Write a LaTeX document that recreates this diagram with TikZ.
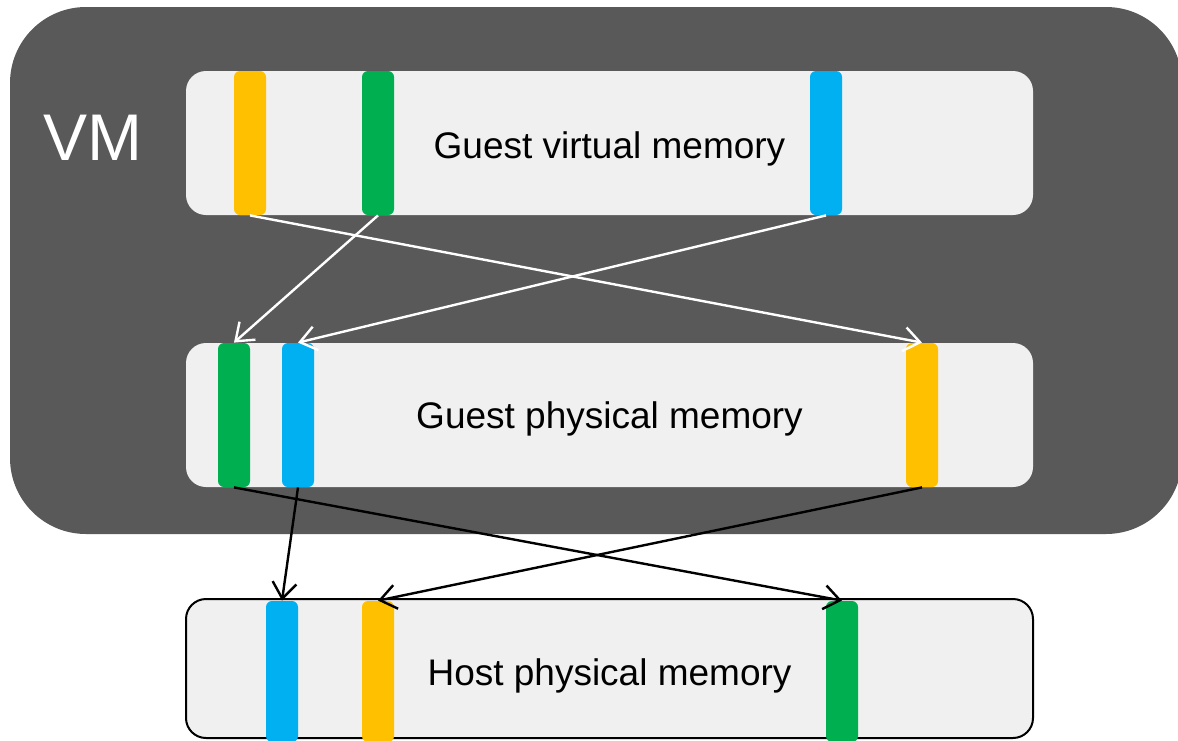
\documentclass[tikz,border=0pt]{standalone}
\usepackage{fontspec}
\setmainfont{Liberation Sans}
\usetikzlibrary{positioning,arrows.meta}
\definecolor{vmgray}{HTML}{595959}
\definecolor{boxgray}{HTML}{F0F0F0}
\definecolor{pageyellow}{HTML}{FFC000}
\definecolor{pagegreen}{HTML}{00B050}
\definecolor{pageblue}{HTML}{00B0F0}
\begin{document}
\begin{tikzpicture}[x=0.5pt, y=-0.5pt, >={Straight Barb[length=8pt,width=12pt]}]
		\useasboundingbox (0,0) rectangle (1178,740);
		% virtual machine
		\node[fill=vmgray, rounded corners=38pt, inner sep=0, minimum width=586pt, minimum height=263.5pt] (vm) at (596,270.5) {};
		\node[text=white, font=\fontsize{33}{40}\selectfont] (vmlabel) at (93,138) {VM};
		\begin{scope}[every node/.style={rectangle, inner sep=0, fill=boxgray, rounded corners=10pt, minimum width=423.5pt, minimum height=72pt}]
			\node (gvm) at (609.5,143) {};
			\node (gpm) at (609.5,415) {};
			\node[draw=black, line width=1pt, minimum height=69.5pt] (hpm) at (609.5,668.5) {};
		\end{scope}
		\begin{scope}[every node/.style={anchor=base, inner sep=0, font=\fontsize{18.5}{22}\selectfont}]
			\node (gvmtext) at ([yshift=-7.5pt]gvm.center) {Guest virtual memory};
			\node (gpmtext) at ([yshift=-6.5pt]gpm.center) {Guest physical memory};
			\node (hpmtext) at ([yshift=-8.25pt]hpm.center) {Host physical memory};
		\end{scope}
		\begin{scope}[every node/.style={rectangle, inner sep=0, rounded corners=3pt, minimum width=16pt, minimum height=72pt}]
			\node[fill=pageyellow] (gvY) at (250,143) {};
			\node[fill=pagegreen] (gvG) at (378,143) {};
			\node[fill=pageblue] (gvB) at (826,143) {};
			\node[fill=pagegreen] (gpG) at (234,415) {};
			\node[fill=pageblue] (gpB) at (298,415) {};
			\node[fill=pageyellow] (gpY) at (922,415) {};
			\node[fill=pageblue, minimum height=70.5pt] (hpB) at (282,671.5) {};
			\node[fill=pageyellow, minimum height=70.5pt] (hpY) at (378,671.5) {};
			\node[fill=pagegreen, minimum height=70.5pt] (hpG) at (842,671.5) {};
		\end{scope}
		\begin{scope}[every path/.style={line width=1.2pt, ->}]
			\draw[white] (gvY.south) -- (gpY.north);
			\draw[white] (gvG.south) -- (gpG.north);
			\draw[white] (gvB.south) -- (gpB.north);
			\draw[black] (gpG.south) -- (hpG.north);
			\draw[black] (gpB.south) -- (hpB.north);
			\draw[black] (gpY.south) -- (hpY.north);
		\end{scope}
	\end{tikzpicture}
\end{document}
